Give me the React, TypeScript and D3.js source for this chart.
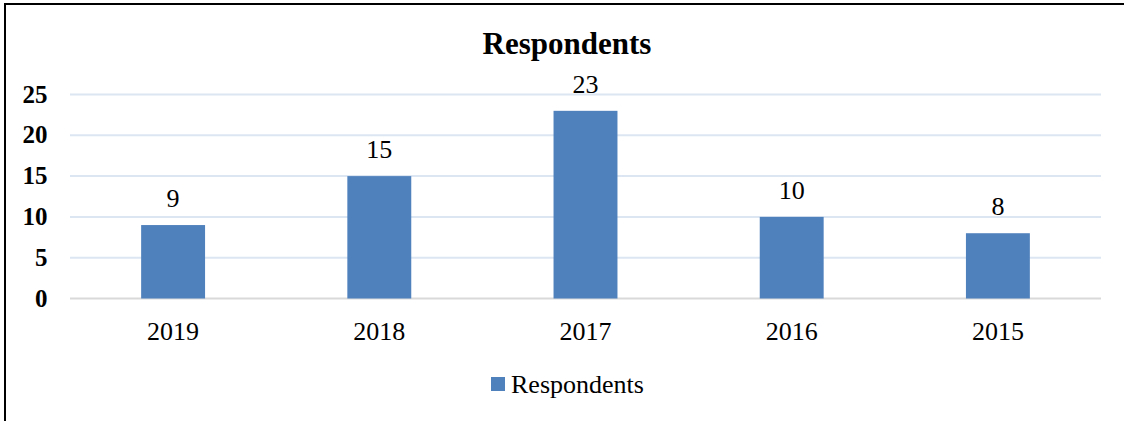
import React, { useEffect, useRef } from 'react'
import * as d3 from 'd3'

const years = ['2019', '2018', '2017', '2016', '2015']
const respondents = [9, 15, 23, 10, 8]
const yTicks = [0, 5, 10, 15, 20, 25]
const seriesName = 'Respondents'
const chartTitle = 'Respondents'

const width = 1124
const height = 421
const font = '"Liberation Serif", "Times New Roman", serif'

export default function App() {
  const svgRef = useRef<SVGSVGElement>(null)

  useEffect(() => {
    if (!svgRef.current) return
    const svg = d3.select(svgRef.current)
    svg.selectAll('*').remove()

    const plot = { left: 70, right: 1101, top: 94.5, bottom: 298.5 }

    const x = d3.scaleBand().domain(years).range([plot.left, plot.right]).padding(0)
    const y = d3.scaleLinear().domain([0, 25]).range([plot.bottom, plot.top])
    const barW = x.bandwidth() * 0.31

    // frame (only left and top edges visible in the page)
    svg
      .append('rect')
      .attr('x', 5)
      .attr('y', 4)
      .attr('width', 1140)
      .attr('height', 440)
      .attr('fill', 'none')
      .attr('stroke', '#000')
      .attr('stroke-width', 2)

    // title
    svg
      .append('text')
      .attr('x', 567)
      .attr('y', 54)
      .attr('text-anchor', 'middle')
      .attr('font-family', font)
      .attr('font-weight', 'bold')
      .attr('font-size', 31)
      .attr('fill', '#000')
      .text(chartTitle)

    // gridlines
    svg
      .append('g')
      .selectAll('line')
      .data(yTicks)
      .enter()
      .append('line')
      .attr('x1', plot.left)
      .attr('x2', plot.right)
      .attr('y1', (d) => y(d))
      .attr('y2', (d) => y(d))
      .attr('stroke', (d) => (d === 0 ? '#D9D9D9' : '#DCE6F2'))
      .attr('stroke-width', 2)

    // y labels
    svg
      .append('g')
      .selectAll('text')
      .data(yTicks)
      .enter()
      .append('text')
      .attr('x', 47.5)
      .attr('y', (d) => y(d) + 8)
      .attr('text-anchor', 'end')
      .attr('font-family', font)
      .attr('font-weight', 'bold')
      .attr('font-size', 25)
      .attr('fill', '#000')
      .text((d) => d)

    // bars
    svg
      .append('g')
      .selectAll('rect')
      .data(respondents)
      .enter()
      .append('rect')
      .attr('x', (_d, i) => (x(years[i]) || 0) + x.bandwidth() / 2 - barW / 2)
      .attr('y', (d) => y(d))
      .attr('width', barW)
      .attr('height', (d) => y(0) - y(d))
      .attr('fill', '#4F81BD')

    // data labels
    svg
      .append('g')
      .selectAll('text')
      .data(respondents)
      .enter()
      .append('text')
      .attr('x', (_d, i) => (x(years[i]) || 0) + x.bandwidth() / 2)
      .attr('y', (d) => y(d) - 18)
      .attr('text-anchor', 'middle')
      .attr('font-family', font)
      .attr('font-size', 26)
      .attr('fill', '#000')
      .text((d) => d)

    // x labels
    svg
      .append('g')
      .selectAll('text')
      .data(years)
      .enter()
      .append('text')
      .attr('x', (d) => (x(d) || 0) + x.bandwidth() / 2)
      .attr('y', 340)
      .attr('text-anchor', 'middle')
      .attr('font-family', font)
      .attr('font-size', 26)
      .attr('fill', '#000')
      .text((d) => d)

    // legend
    const legend = svg.append('g')
    legend
      .append('rect')
      .attr('x', 491)
      .attr('y', 377)
      .attr('width', 14)
      .attr('height', 14)
      .attr('fill', '#4F81BD')
    legend
      .append('text')
      .attr('x', 511)
      .attr('y', 392.5)
      .attr('font-family', font)
      .attr('font-size', 26)
      .attr('fill', '#000')
      .text(seriesName)
  }, [])

  return (
    <svg
      ref={svgRef}
      width={width}
      height={height}
      style={{ position: 'absolute', left: 0, top: 0, background: '#fff' }}
    />
  )
}
